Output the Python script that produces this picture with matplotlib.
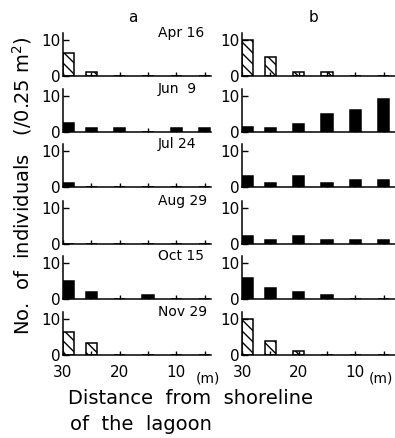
import matplotlib
matplotlib.use('Agg')
import matplotlib.pyplot as plt

# sampling stations (m from shoreline) and survey dates
distance = [29, 25, 20, 15, 10, 5]
dates = ['Apr 16', 'Jun  9', 'Jul 24', 'Aug 29', 'Oct 15', 'Nov 29']
hatched = [True, False, False, False, False, True]

# No. of individuals per 0.25 m2, site a
a_apr = [6.5, 1, 0, 0, 0, 0]
a_jun = [2.3, 1, 1, 0, 1, 1]
a_jul = [1, 0, 0, 0, 0, 0]
a_aug = [0, 0, 0, 0, 0, 0]
a_oct = [5, 2, 0, 1, 0, 0]
a_nov = [6.5, 3.3, 0, 0, 0, 0]

# site b
b_apr = [10, 5.3, 1.2, 1.2, 0, 0]
b_jun = [1.2, 1, 2, 5, 6, 9.2]
b_jul = [3, 1, 3, 1, 2, 2]
b_aug = [2, 1, 2, 1, 1, 1]
b_oct = [6, 3, 2, 1, 0, 0]
b_nov = [10, 4, 1, 0, 0, 0]

site_a = [a_apr, a_jun, a_jul, a_aug, a_oct, a_nov]
site_b = [b_apr, b_jun, b_jul, b_aug, b_oct, b_nov]

W, H = 395, 438
fig = plt.figure(figsize=(W / 100, H / 100), dpi=100)

baselines = [76, 131.5, 187, 243.5, 299, 355]
ax_h = 43
cols = [(63, 211, (30, 3.9)), (242, 395, (30, 3.0))]

for c, (site, (x0, x1, xl)) in enumerate(zip([site_a, site_b], cols)):
    for r, vals in enumerate(site):
        ax = fig.add_axes([x0 / W, 1 - baselines[r] / H,
                           (x1 - x0) / W, ax_h / H])
        if hatched[r]:
            ax.bar(distance, vals, width=2, facecolor='white',
                   edgecolor='black', hatch='\\\\\\', linewidth=1.1)
        else:
            ax.bar(distance, vals, width=2, color='black',
                   edgecolor='black', linewidth=1.1)
        ax.set_xlim(*xl)
        ax.set_ylim(0, 12)
        for s in ['top', 'right']:
            ax.spines[s].set_visible(False)
        for s in ['left', 'bottom']:
            ax.spines[s].set_linewidth(1.1)
        ax.set_yticks([0, 10])
        ax.set_xticks([30, 25, 20, 15, 10, 5])
        ax.tick_params(direction='in', length=4, width=1, labelsize=11,
                       pad=2)
        ax.tick_params(axis='x', length=3)
        if r == len(site) - 1:
            ax.set_xticklabels(['30', '', '20', '', '10', ''])
            ax.tick_params(axis='x', pad=7)
        else:
            ax.set_xticklabels([])
        if c == 0:
            fig.text(158 / W, 1 - (baselines[r] - ax_h) / H, dates[r],
                     ha='left', va='center', fontsize=10)

fig.text(133 / W, 1 - 18 / H, 'a', ha='center', va='center', fontsize=11)
fig.text(313 / W, 1 - 18 / H, 'b', ha='center', va='center', fontsize=11)
fig.text(208 / W, 1 - 379 / H, '(m)', ha='center', va='center', fontsize=10)
fig.text(381 / W, 1 - 379 / H, '(m)', ha='center', va='center', fontsize=10)

fig.text(22 / W, 1 - 186 / H, 'No.  of  individuals   (/0.25 m$^2$)',
         rotation=90, ha='center', va='center', fontsize=14)
fig.text(68 / W, 1 - 399 / H, 'Distance  from  shoreline',
         ha='left', va='center', fontsize=14)
fig.text(70 / W, 1 - 424 / H, 'of  the  lagoon',
         ha='left', va='center', fontsize=14)

fig.savefig('out.png', dpi=100)
